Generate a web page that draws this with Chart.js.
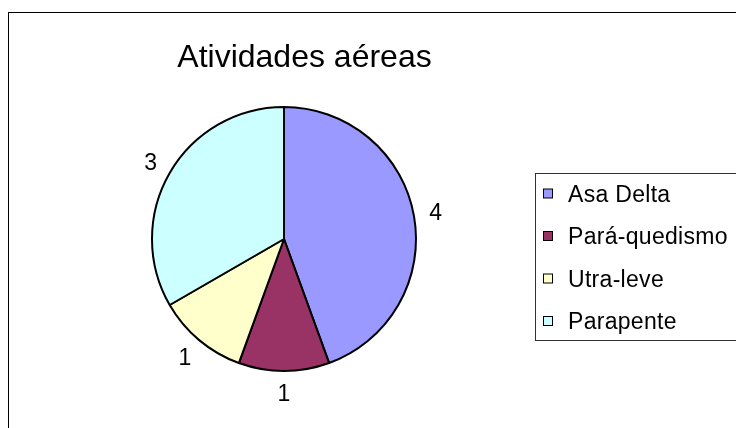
<!DOCTYPE html>
<html>
<head>
<meta charset="utf-8">
<script src="https://cdn.jsdelivr.net/npm/chart.js@4/dist/chart.umd.min.js"></script>
<style>
  html, body { margin: 0; padding: 0; background: #fff; }
  #wrap { width: 736px; height: 428px; position: relative; }
</style>
</head>
<body>
<div id="wrap"><canvas id="c" width="736" height="428"></canvas></div>
<script>
const chartTitle = "Atividades aéreas";
const categories = ["Asa Delta", "Pará-quedismo", "Utra-leve", "Parapente"];
const values = [4, 1, 1, 3];
const sliceColors = ["#9999FF", "#993366", "#FFFFCC", "#CCFFFF"];

const FONT = '"Liberation Sans", Arial, sans-serif';

const decorPlugin = {
  id: 'decor',
  beforeDraw(chart) {
    const ctx = chart.ctx;
    ctx.save();
    ctx.fillStyle = '#fff';
    ctx.fillRect(0, 0, chart.width, chart.height);
    // outer frame (extends past the canvas edges)
    ctx.strokeStyle = '#000';
    ctx.lineWidth = 1;
    ctx.strokeRect(8.5, 12.5, 900, 600);
    // title
    ctx.fillStyle = '#000';
    ctx.font = '32px ' + FONT;
    ctx.textAlign = 'center';
    ctx.textBaseline = 'alphabetic';
    ctx.fillText(chartTitle, 304.5, 67);
    // legend box
    ctx.strokeStyle = '#333';
    ctx.lineWidth = 1;
    ctx.strokeRect(535.5, 173.5, 300, 167);
    ctx.font = '23px ' + FONT;
    ctx.textAlign = 'left';
    if ('letterSpacing' in ctx) ctx.letterSpacing = '0.3px';
    const ds = chart.data.datasets[0];
    chart.data.labels.forEach((lab, i) => {
      const base = 201.5 + i * 42.5;
      const cy = base - 8;
      ctx.fillStyle = ds.backgroundColor[i];
      ctx.fillRect(543, cy - 4.5, 9, 9);
      ctx.strokeStyle = '#000';
      ctx.strokeRect(543.5, cy - 4.5, 9, 9);
      ctx.fillStyle = '#000';
      ctx.fillText(lab, 568, base);
    });
    ctx.restore();
  },
  afterDatasetsDraw(chart) {
    const ctx = chart.ctx;
    const meta = chart.getDatasetMeta(0);
    const data = chart.data.datasets[0].data;
    ctx.save();
    ctx.fillStyle = '#000';
    ctx.font = '23px ' + FONT;
    ctx.textAlign = 'center';
    ctx.textBaseline = 'alphabetic';
    meta.data.forEach((arc, i) => {
      const p = arc.getProps(['x', 'y', 'startAngle', 'endAngle', 'outerRadius'], true);
      const mid = (p.startAngle + p.endAngle) / 2;
      const d = p.outerRadius + 22;
      const x = p.x + Math.cos(mid) * d;
      const y = p.y + Math.sin(mid) * d;
      ctx.fillText(String(data[i]), x, y + 8.2);
    });
    ctx.restore();
  }
};

new Chart(document.getElementById('c'), {
  type: 'pie',
  data: {
    labels: categories,
    datasets: [{
      data: values,
      backgroundColor: sliceColors,
      borderColor: '#000',
      borderWidth: 2
    }]
  },
  options: {
    responsive: false,
    animation: false,
    events: [],
    layout: { padding: { left: 151, right: 319, top: 106, bottom: 56 } },
    plugins: {
      legend: { display: false },
      title: { display: false },
      tooltip: { enabled: false }
    }
  },
  plugins: [decorPlugin]
});
</script>
</body>
</html>
